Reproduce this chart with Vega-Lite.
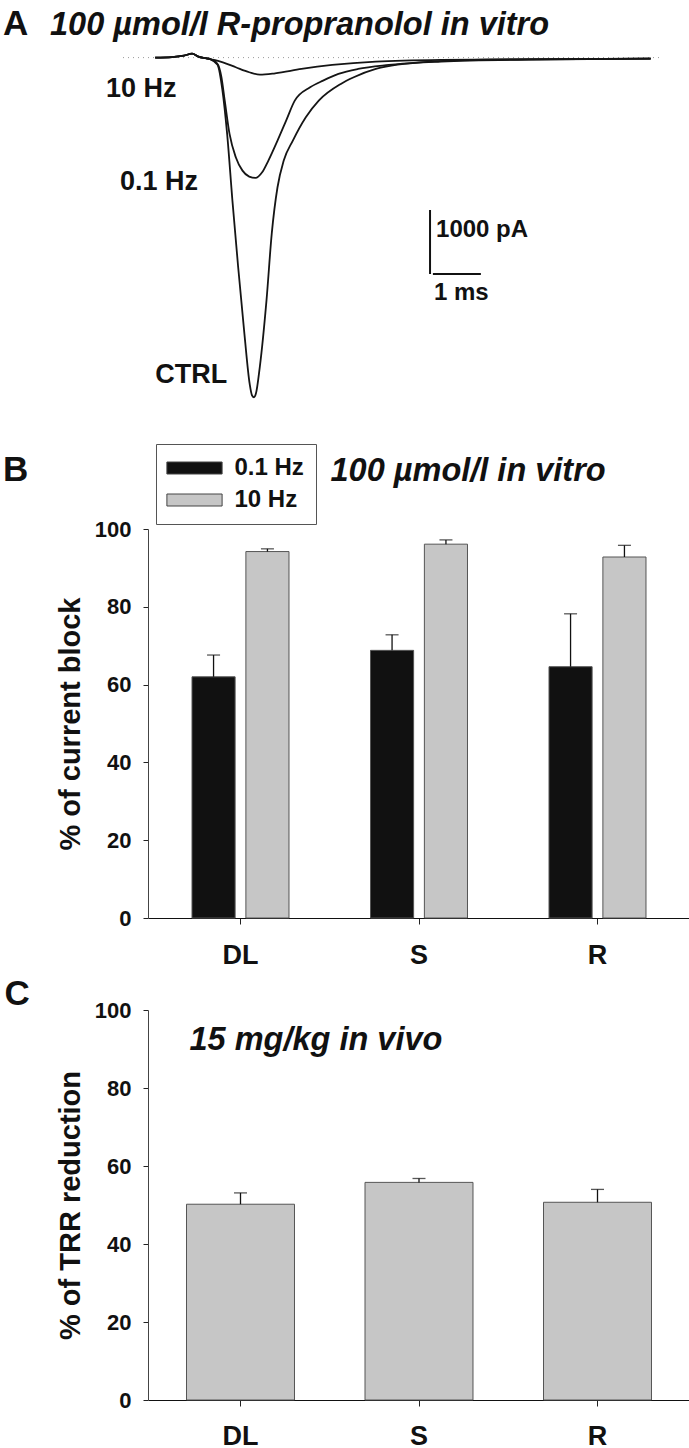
{
  "$schema": "https://vega.github.io/schema/vega-lite/v6.json",
  "padding": {"left": 2, "top": 0, "right": 0, "bottom": 0},
  "bounds": "flush",
  "spacing": 92,
  "config": {
    "view": {"stroke": null},
    "font": "Liberation Sans",
    "axis": {"grid": false, "domainColor": "#222", "tickColor": "#222", "labelColor": "#111", "titleColor": "#111", "labelFontWeight": "bold", "titleFontWeight": "bold", "labelFont": "Liberation Sans", "titleFont": "Liberation Sans"},
    "text": {"color": "#111", "font": "Liberation Sans", "fontWeight": "bold"}
  },
  "vconcat": [
    {
      "width": 542,
      "height": 437,
      "layer": [
        {
          "data": {"values": [{"t0": -0.671, "t1": 10.53, "I": 0}]},
          "mark": {"type": "rule", "color": "#9a9a9a", "strokeWidth": 1, "strokeDash": [1, 4]},
          "encoding": {
            "x": {"field": "t0", "type": "quantitative", "scale": {"domain": [-0.15, 11.15], "nice": false, "zero": false}, "axis": null},
            "x2": {"field": "t1"},
            "y": {"field": "I", "type": "quantitative", "scale": {"domain": [-5928, 900], "nice": false, "zero": false}, "axis": null}
          }
        },
        {
          "data": {"values": [
            {"trace": "CTRL", "t": 0, "I": 0}, {"trace": "CTRL", "t": 0.35, "I": 8}, {"trace": "CTRL", "t": 0.6, "I": 30}, {"trace": "CTRL", "t": 0.77, "I": 62}, {"trace": "CTRL", "t": 0.9, "I": 15}, {"trace": "CTRL", "t": 1.05, "I": -10}, {"trace": "CTRL", "t": 1.15, "I": -25},
            {"trace": "CTRL", "t": 1.3, "I": -110}, {"trace": "CTRL", "t": 1.4, "I": -500}, {"trace": "CTRL", "t": 1.5, "I": -1193}, {"trace": "CTRL", "t": 1.61, "I": -2234}, {"trace": "CTRL", "t": 1.73, "I": -3276}, {"trace": "CTRL", "t": 1.86, "I": -4318}, {"trace": "CTRL", "t": 1.97, "I": -5099}, {"trace": "CTRL", "t": 2.02, "I": -5280}, {"trace": "CTRL", "t": 2.06, "I": -5307}, {"trace": "CTRL", "t": 2.1, "I": -5250}, {"trace": "CTRL", "t": 2.18, "I": -4839}, {"trace": "CTRL", "t": 2.32, "I": -3797}, {"trace": "CTRL", "t": 2.43, "I": -2750}, {"trace": "CTRL", "t": 2.55, "I": -2026}, {"trace": "CTRL", "t": 2.68, "I": -1609}, {"trace": "CTRL", "t": 2.87, "I": -1297}, {"trace": "CTRL", "t": 3.14, "I": -932}, {"trace": "CTRL", "t": 3.41, "I": -672}, {"trace": "CTRL", "t": 3.87, "I": -411}, {"trace": "CTRL", "t": 4.14, "I": -307}, {"trace": "CTRL", "t": 4.6, "I": -177}, {"trace": "CTRL", "t": 5.05, "I": -109}, {"trace": "CTRL", "t": 5.96, "I": -62}, {"trace": "CTRL", "t": 7.79, "I": -31}, {"trace": "CTRL", "t": 10.33, "I": -16},
            {"trace": "0.1 Hz", "t": 0, "I": 0}, {"trace": "0.1 Hz", "t": 0.35, "I": 8}, {"trace": "0.1 Hz", "t": 0.6, "I": 30}, {"trace": "0.1 Hz", "t": 0.77, "I": 62}, {"trace": "0.1 Hz", "t": 0.9, "I": 15}, {"trace": "0.1 Hz", "t": 1.05, "I": -10}, {"trace": "0.1 Hz", "t": 1.15, "I": -25},
            {"trace": "0.1 Hz", "t": 1.3, "I": -100}, {"trace": "0.1 Hz", "t": 1.38, "I": -300}, {"trace": "0.1 Hz", "t": 1.45, "I": -672}, {"trace": "0.1 Hz", "t": 1.55, "I": -1193}, {"trace": "0.1 Hz", "t": 1.68, "I": -1557}, {"trace": "0.1 Hz", "t": 1.82, "I": -1766}, {"trace": "0.1 Hz", "t": 1.96, "I": -1859}, {"trace": "0.1 Hz", "t": 2.09, "I": -1880}, {"trace": "0.1 Hz", "t": 2.23, "I": -1792}, {"trace": "0.1 Hz", "t": 2.36, "I": -1609}, {"trace": "0.1 Hz", "t": 2.55, "I": -1297}, {"trace": "0.1 Hz", "t": 2.73, "I": -984}, {"trace": "0.1 Hz", "t": 2.91, "I": -672}, {"trace": "0.1 Hz", "t": 3.23, "I": -464}, {"trace": "0.1 Hz", "t": 3.5, "I": -359}, {"trace": "0.1 Hz", "t": 3.82, "I": -255}, {"trace": "0.1 Hz", "t": 4.23, "I": -177}, {"trace": "0.1 Hz", "t": 4.87, "I": -115}, {"trace": "0.1 Hz", "t": 5.51, "I": -73}, {"trace": "0.1 Hz", "t": 6.88, "I": -31}, {"trace": "0.1 Hz", "t": 10.33, "I": -16},
            {"trace": "10 Hz", "t": 0, "I": 0}, {"trace": "10 Hz", "t": 0.35, "I": 8}, {"trace": "10 Hz", "t": 0.6, "I": 30}, {"trace": "10 Hz", "t": 0.77, "I": 62}, {"trace": "10 Hz", "t": 0.9, "I": 15}, {"trace": "10 Hz", "t": 1.05, "I": -10}, {"trace": "10 Hz", "t": 1.15, "I": -25},
            {"trace": "10 Hz", "t": 1.25, "I": -40}, {"trace": "10 Hz", "t": 1.41, "I": -73}, {"trace": "10 Hz", "t": 1.68, "I": -151}, {"trace": "10 Hz", "t": 1.96, "I": -229}, {"trace": "10 Hz", "t": 2.18, "I": -266}, {"trace": "10 Hz", "t": 2.5, "I": -245}, {"trace": "10 Hz", "t": 3.05, "I": -177}, {"trace": "10 Hz", "t": 3.69, "I": -115}, {"trace": "10 Hz", "t": 4.6, "I": -62}, {"trace": "10 Hz", "t": 5.96, "I": -36}, {"trace": "10 Hz", "t": 10.33, "I": -16}
          ]},
          "mark": {"type": "line", "color": "#151515", "strokeWidth": 1.8, "interpolate": "monotone"},
          "encoding": {
            "x": {"field": "t", "type": "quantitative"},
            "y": {"field": "I", "type": "quantitative"},
            "detail": {"field": "trace"}
          }
        },
        {
          "data": {"values": [{"t0": 5.73, "t1": 5.73, "I0": -2381, "I1": -3381}, {"t0": 5.79, "t1": 6.79, "I0": -3381, "I1": -3381}]},
          "mark": {"type": "rule", "color": "#111", "strokeWidth": 2},
          "encoding": {
            "x": {"field": "t0", "type": "quantitative"},
            "x2": {"field": "t1"},
            "y": {"field": "I0", "type": "quantitative"},
            "y2": {"field": "I1"}
          }
        },
        {
          "data": {"values": [{"label": "10 Hz", "t": -1.026, "I": -616}, {"label": "0.1 Hz", "t": -0.734, "I": -2069}, {"label": "CTRL", "t": 0.0, "I": -5084}]},
          "mark": {"type": "text", "align": "left", "baseline": "alphabetic", "fontSize": 27},
          "encoding": {"x": {"field": "t", "type": "quantitative"}, "y": {"field": "I", "type": "quantitative"}, "text": {"field": "label"}}
        },
        {
          "data": {"values": [{"label": "1000 pA", "t": 5.855, "I": -2803}, {"label": "1 ms", "t": 5.813, "I": -3787}]},
          "mark": {"type": "text", "align": "left", "baseline": "alphabetic", "fontSize": 24},
          "encoding": {"x": {"field": "t", "type": "quantitative"}, "y": {"field": "I", "type": "quantitative"}, "text": {"field": "label"}}
        },
        {
          "data": {"values": [{"label": "A", "t": -3.173, "I": 353}]},
          "mark": {"type": "text", "align": "left", "baseline": "alphabetic", "fontSize": 35},
          "encoding": {"x": {"field": "t", "type": "quantitative"}, "y": {"field": "I", "type": "quantitative"}, "text": {"field": "label"}}
        },
        {
          "data": {"values": [{"label": "100 µmol/l R-propranolol in vitro", "t": -2.193, "I": 353}]},
          "mark": {"type": "text", "align": "left", "baseline": "alphabetic", "fontSize": 32.5, "fontStyle": "italic"},
          "encoding": {"x": {"field": "t", "type": "quantitative"}, "y": {"field": "I", "type": "quantitative"}, "text": {"field": "label"}}
        }
      ]
    },
    {
      "width": 542,
      "height": 389,
      "layer": [
        {
          "data": {"name": "blockData", "values": [
            {"drug": "DL", "freq": "0.1 Hz", "block": 62.0, "upper": 67.6},
            {"drug": "DL", "freq": "10 Hz", "block": 94.2, "upper": 94.9},
            {"drug": "S", "freq": "0.1 Hz", "block": 68.8, "upper": 72.8},
            {"drug": "S", "freq": "10 Hz", "block": 96.1, "upper": 97.2},
            {"drug": "R", "freq": "0.1 Hz", "block": 64.6, "upper": 78.2},
            {"drug": "R", "freq": "10 Hz", "block": 92.8, "upper": 95.8}
          ]},
          "layer": [
            {
              "mark": {"type": "bar", "stroke": "#555", "strokeWidth": 1},
              "encoding": {
                "x": {"field": "drug", "type": "nominal", "sort": ["DL", "S", "R"],
                      "scale": {"paddingInner": 0.4566, "paddingOuter": 0.2465},
                      "axis": {"title": null, "labelAngle": 0, "labelFontSize": 27, "labelPadding": 18, "tickSize": 6, "domainColor": "#111"}},
                "y": {"field": "block", "type": "quantitative",
                      "scale": {"domain": [0, 100], "nice": false},
                      "axis": {"title": "% of current block", "values": [0, 20, 40, 60, 80, 100], "labelFontSize": 22, "labelPadding": 12, "tickSize": 5, "titleFontSize": 29, "titlePadding": 9, "domainColor": "#444"}},
                "xOffset": {"field": "freq", "type": "nominal", "sort": ["0.1 Hz", "10 Hz"], "scale": {"paddingInner": 0.2, "paddingOuter": 0}},
                "color": {"field": "freq", "type": "nominal",
                          "scale": {"domain": ["0.1 Hz", "10 Hz"], "range": ["#111111", "#c6c6c6"]},
                          "legend": {"title": null, "orient": "none", "legendX": 8, "legendY": 444, "direction": "vertical",
                                     "symbolType": "M-4.6,-1H4.6V1H-4.6Z", "symbolSize": 144, "symbolStrokeColor": "#444", "symbolStrokeWidth": 1,
                                     "symbolOffset": 14.5, "labelOffset": 28, "labelFontSize": 24, "labelFontWeight": "bold", "labelFont": "Liberation Sans", "labelColor": "#111",
                                     "rowPadding": 8, "padding": 12, "strokeColor": "#555", "fillColor": "white"}}
              }
            },
            {
              "mark": {"type": "rule", "color": "#111", "strokeWidth": 1.3},
              "encoding": {
                "x": {"field": "drug", "type": "nominal", "sort": ["DL", "S", "R"]},
                "xOffset": {"field": "freq", "type": "nominal", "sort": ["0.1 Hz", "10 Hz"]},
                "y": {"field": "block", "type": "quantitative"},
                "y2": {"field": "upper"}
              }
            },
            {
              "mark": {"type": "tick", "color": "#111", "thickness": 1.3, "size": 13, "orient": "horizontal"},
              "encoding": {
                "x": {"field": "drug", "type": "nominal", "sort": ["DL", "S", "R"]},
                "xOffset": {"field": "freq", "type": "nominal", "sort": ["0.1 Hz", "10 Hz"]},
                "y": {"field": "upper", "type": "quantitative"}
              }
            }
          ]
        },
        {
          "data": {"values": [{"drug": "DL", "label": "B"}]},
          "mark": {"type": "text", "align": "left", "baseline": "alphabetic", "fontSize": 35, "dx": -237.5},
          "encoding": {
            "x": {"field": "drug", "type": "nominal", "sort": ["DL", "S", "R"]},
            "y": {"datum": 112.3, "type": "quantitative"},
            "text": {"field": "label", "type": "nominal"}
          }
        },
        {
          "data": {"values": [{"drug": "DL", "label": "100 µmol/l in vitro"}]},
          "mark": {"type": "text", "align": "left", "baseline": "alphabetic", "fontSize": 32.5, "fontStyle": "italic", "dx": 90},
          "encoding": {
            "x": {"field": "drug", "type": "nominal", "sort": ["DL", "S", "R"]},
            "y": {"datum": 112.3, "type": "quantitative"},
            "text": {"field": "label", "type": "nominal"}
          }
        }
      ]
    },
    {
      "width": 542,
      "height": 390,
      "layer": [
        {
          "data": {"values": [
            {"drug": "DL", "reduction": 50.2, "upper": 53.1},
            {"drug": "S", "reduction": 55.8, "upper": 56.8},
            {"drug": "R", "reduction": 50.7, "upper": 54.0}
          ]},
          "layer": [
            {
              "mark": {"type": "bar", "color": "#c6c6c6", "stroke": "#555", "strokeWidth": 1},
              "encoding": {
                "x": {"field": "drug", "type": "nominal", "sort": ["DL", "S", "R"],
                      "scale": {"paddingInner": 0.395, "paddingOuter": 0.2157},
                      "axis": {"title": null, "labelAngle": 0, "labelFontSize": 27, "labelPadding": 17, "tickSize": 6, "domainColor": "#111"}},
                "y": {"field": "reduction", "type": "quantitative",
                      "scale": {"domain": [0, 100], "nice": false},
                      "axis": {"title": "% of TRR reduction", "values": [0, 20, 40, 60, 80, 100], "labelFontSize": 22, "labelPadding": 12, "tickSize": 5, "titleFontSize": 29, "titlePadding": 9, "domainColor": "#444"}}
              }
            },
            {
              "mark": {"type": "rule", "color": "#111", "strokeWidth": 1.3},
              "encoding": {
                "x": {"field": "drug", "type": "nominal", "sort": ["DL", "S", "R"]},
                "y": {"field": "reduction", "type": "quantitative"},
                "y2": {"field": "upper"}
              }
            },
            {
              "mark": {"type": "tick", "color": "#111", "thickness": 1.3, "size": 13, "orient": "horizontal"},
              "encoding": {
                "x": {"field": "drug", "type": "nominal", "sort": ["DL", "S", "R"]},
                "y": {"field": "upper", "type": "quantitative"}
              }
            }
          ]
        },
        {
          "data": {"values": [{"drug": "DL", "label": "C"}]},
          "mark": {"type": "text", "align": "left", "baseline": "alphabetic", "fontSize": 35, "dx": -236},
          "encoding": {
            "x": {"field": "drug", "type": "nominal", "sort": ["DL", "S", "R"]},
            "y": {"datum": 101.3, "type": "quantitative"},
            "text": {"field": "label", "type": "nominal"}
          }
        },
        {
          "data": {"values": [{"drug": "DL", "label": "15 mg/kg in vivo"}]},
          "mark": {"type": "text", "align": "left", "baseline": "alphabetic", "fontSize": 32.5, "fontStyle": "italic", "dx": -51},
          "encoding": {
            "x": {"field": "drug", "type": "nominal", "sort": ["DL", "S", "R"]},
            "y": {"datum": 89.7, "type": "quantitative"},
            "text": {"field": "label", "type": "nominal"}
          }
        }
      ]
    }
  ]
}
